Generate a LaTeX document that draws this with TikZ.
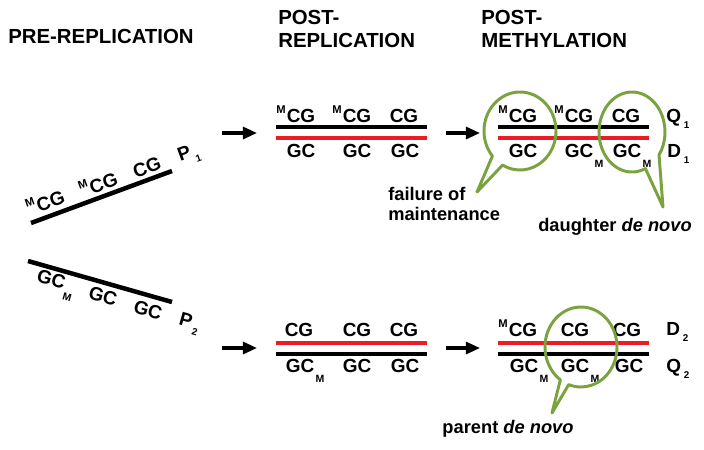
\documentclass[tikz,border=0pt]{standalone}
\usepackage{fontspec}
\setmainfont{Liberation Sans}
\usepackage{tikz}
\definecolor{newred}{RGB}{237,28,36}
\definecolor{bubblegreen}{RGB}{122,163,64}
\usetikzlibrary{calc,positioning,arrows.meta}
\tikzset{%
  heading/.style={font=\fontsize{14.5}{16.3}\selectfont\bfseries, inner sep=0pt},% column titles
  nuc/.style={font=\fontsize{13.5}{13.5}\selectfont\bfseries, inner sep=0pt},% base pair letters
  note/.style={font=\fontsize{13}{14.3}\selectfont\bfseries, inner sep=0pt},% bubble captions
  strand/.style={line width=3.2pt},% one DNA strand
  parent/.style={strand, black},% template strand
  daughter/.style={strand, newred},% newly made strand
  goto/.style={line width=2.2pt, -{Triangle[length=10pt, width=8.5pt]}},% step arrow
  callout/.style={draw=bubblegreen, line width=2.1pt, line join=round}% speech bubble
}
\newcommand*{\Mup}{\raisebox{6.3pt}{\fontsize{8}{8}\selectfont M}}
\newcommand*{\Mdown}{\raisebox{-7.5pt}{\fontsize{7.5}{7.5}\selectfont M}}
\newcommand*{\mCG}{\llap{\Mup\kern0.8pt}CG}
\newcommand*{\GCm}{GC\rlap{\kern1pt\Mdown}}
\newcommand*{\idx}[2]{#1\kern2pt\raisebox{-4.7pt}{\fontsize{7}{7}\selectfont #2}}

\begin{document}
\begin{tikzpicture}[x=0.025cm, y=-0.025cm]
\useasboundingbox (0,0) rectangle (704,449);
\def\x{222}

\node[heading, anchor=base west] (pre) at (8,43) {PRE-REPLICATION};
\node[heading, anchor=north west, align=left] (postrep) at (278,10) {POST-\\REPLICATION};
\node[heading, anchor=north west, align=left] (postmeth) at (481,10) {POST-\\METHYLATION};

% pre-replication
\coordinate (p1a) at (31,223);
\coordinate (p1b) at (172,171);
\coordinate (p2a) at (28,261);
\coordinate (p2b) at (172,302);
\draw[parent] (p1a) -- (p1b);
\draw[parent] (p2a) -- (p2b);
\node[nuc, rotate=20] (p1s1) at (50,200) {\mCG};
\node[nuc, rotate=20] (p1s2) at (103,182) {\mCG};
\node[nuc, rotate=20] (p1s3) at (147,167) {CG};
\node[nuc, rotate=20] (p1) at (189,155) {\idx{P}{1}};
\node[nuc, rotate=-16] (p2s1) at (50,284) {\GCm};
\node[nuc, rotate=-16] (p2s2) at (103,296) {GC};
\node[nuc, rotate=-16] (p2s3) at (148,310) {GC};
\node[nuc, rotate=-16] (p2) at (189,324) {\idx{P}{2}};

% arrows
\coordinate (a1s) at (222,133);
\coordinate (a1e) at (257,133);
\coordinate (a2s) at (222,348);
\coordinate (a2e) at (257,348);
\coordinate (a3s) at (446,133);
\coordinate (a3e) at (480,133);
\coordinate (a4s) at (446,348);
\coordinate (a4e) at (480,348);
\draw[goto] (a1s) -- (a1e);
\draw[goto] (a2s) -- (a2e);
\draw[goto] (a3s) -- (a3e);
\draw[goto] (a4s) -- (a4e);

% post-replication
\coordinate (r1a) at (276,127);
\coordinate (r1b) at (427,127);
\coordinate (r2a) at (276,138);
\coordinate (r2b) at (427,138);
\coordinate (r3a) at (276,343);
\coordinate (r3b) at (427,343);
\coordinate (r4a) at (276,354);
\coordinate (r4b) at (427,354);
\draw[parent] (r1a) -- (r1b);
\draw[daughter] (r2a) -- (r2b);
\draw[daughter] (r3a) -- (r3b);
\draw[parent] (r4a) -- (r4b);
\node[nuc, anchor=base] (r1s1) at (301,122) {\mCG};
\node[nuc, anchor=base] (r1s2) at (357,122) {\mCG};
\node[nuc, anchor=base] (r1s3) at (404,122) {CG};
\node[nuc, anchor=base] (r2s1) at (301,157) {GC};
\node[nuc, anchor=base] (r2s2) at (357,157) {GC};
\node[nuc, anchor=base] (r2s3) at (405,157) {GC};
\node[nuc, anchor=base] (r3s1) at (299,336) {CG};
\node[nuc, anchor=base] (r3s2) at (357,336) {CG};
\node[nuc, anchor=base] (r3s3) at (404,336) {CG};
\node[nuc, anchor=base] (r4s1) at (300,372) {\GCm};
\node[nuc, anchor=base] (r4s2) at (357,372) {GC};
\node[nuc, anchor=base] (r4s3) at (405,372) {GC};

% post-methylation
\coordinate (m1a) at (276 + \x,127);
\coordinate (m1b) at (427 + \x,127);
\coordinate (m2a) at (276 + \x,138);
\coordinate (m2b) at (427 + \x,138);
\coordinate (m3a) at (276 + \x,343);
\coordinate (m3b) at (427 + \x,343);
\coordinate (m4a) at (276 + \x,354);
\coordinate (m4b) at (427 + \x,354);
\draw[parent] (m1a) -- (m1b);
\draw[daughter] (m2a) -- (m2b);
\draw[daughter] (m3a) -- (m3b);
\draw[parent] (m4a) -- (m4b);
\node[nuc, anchor=base] (m1s1) at (301 + \x,122) {\mCG};
\node[nuc, anchor=base] (m1s2) at (357 + \x,122) {\mCG};
\node[nuc, anchor=base] (m1s3) at (404 + \x,122) {CG};
\node[nuc, anchor=base] (m2s1) at (301 + \x,157) {GC};
\node[nuc, anchor=base] (m2s2) at (357 + \x,157) {\GCm};
\node[nuc, anchor=base] (m2s3) at (405 + \x,157) {\GCm};
\node[nuc, anchor=base] (m3s1) at (301 + \x,336) {\mCG};
\node[nuc, anchor=base] (m3s2) at (353 + \x,336) {CG};
\node[nuc, anchor=base] (m3s3) at (405 + \x,336) {CG};
\node[nuc, anchor=base] (m4s1) at (302 + \x,372) {\GCm};
\node[nuc, anchor=base] (m4s2) at (353 + \x,372) {\GCm};
\node[nuc, anchor=base] (m4s3) at (407 + \x,372) {GC};
\node[nuc, anchor=base west] (q1) at (666,122) {\idx{Q}{1}};
\node[nuc, anchor=base west] (d1) at (667,157) {\idx{D}{1}};
\node[nuc, anchor=base west] (d2) at (666,335) {\idx{D}{2}};
\node[nuc, anchor=base west] (q2) at (666,372) {\idx{Q}{2}};

% bubbles
\coordinate (c1) at (520,131);
\coordinate (c2) at (632,132);
\coordinate (c3) at (581,347);
\coordinate (t1) at (477,192);
\coordinate (t2) at (663,207);
\coordinate (t3) at (552,413);
\draw[callout] ($(c1)+(140:36 and 39)$) arc[start angle=140, end angle=479, x radius=36, y radius=39] -- (t1) -- cycle;
\draw[callout] ($(c2)+(66:33 and 40)$) arc[start angle=66, end angle=395, x radius=33, y radius=40] -- (t2) -- cycle;
\draw[callout] ($(c3)+(125:36 and 40)$) arc[start angle=125, end angle=470, x radius=36, y radius=40] -- (t3) -- cycle;

\node[note, anchor=north west, align=left] (fail) at (388,187) {failure of\\maintenance};
\node[note, anchor=base] (dnovo) at (615,231) {daughter \textit{de novo}};
\node[note, anchor=base] (pnovo) at (508,433) {parent \textit{de novo}};
\end{tikzpicture}
\end{document}
